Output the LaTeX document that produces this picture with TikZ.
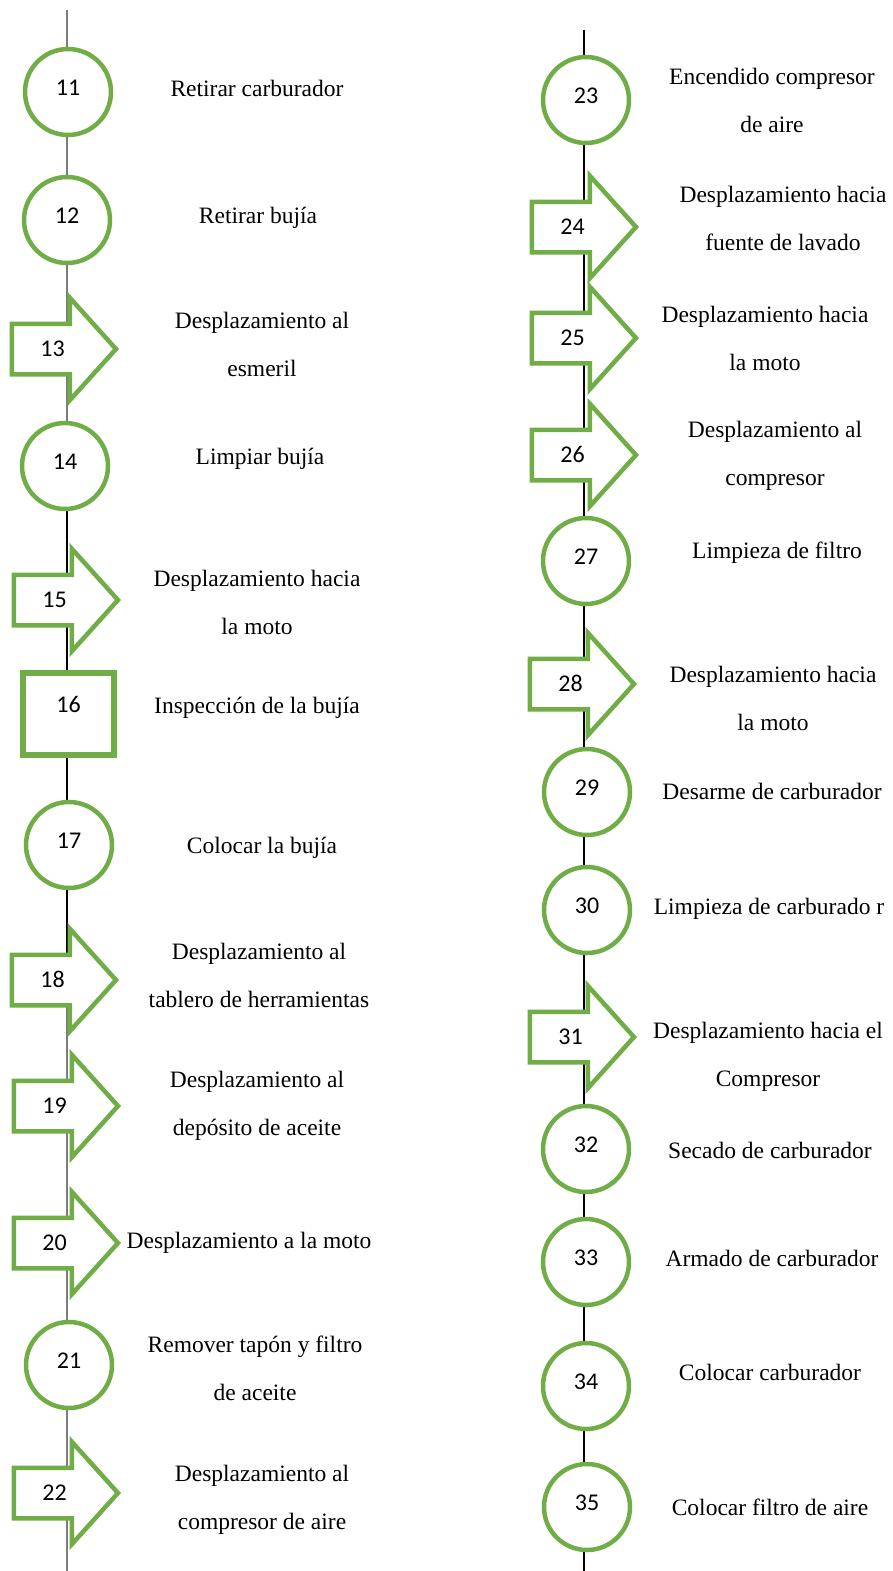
\documentclass[tikz,border=0pt]{standalone}
\usepackage{fontspec}
\setmainfont{Liberation Serif}
\newfontfamily\numfont{Carlito}
\usepackage{tikz}
\usetikzlibrary{shapes.arrows,backgrounds}
\definecolor{opgreen}{RGB}{112,173,71}
\definecolor{opline}{RGB}{125,125,125}
\tikzset{
  opbase/.style={draw=opgreen, fill=white, font=\numfont\fontsize{24}{28}\selectfont},
  oper/.style={opbase, circle, line width=4.5pt, minimum size=86pt, inner sep=0pt, text depth=9pt},
  insp/.style={opbase, rectangle, line width=6pt, minimum width=91pt, minimum height=82pt,
    inner sep=0pt, text depth=20pt},
  move/.style={opbase, single arrow, line width=4.5pt, single arrow head extend=26pt,
    single arrow tip angle=96, minimum height=104pt, text height=15pt, text depth=0pt,
    inner ysep=15.5pt, inner xsep=2pt, anchor=tip},
  desc/.style={align=center, font=\fontsize{23.5}{48}\selectfont},
  flow/.style={draw=black, line width=1.5pt},
  flowg/.style={flow, draw=opline}
}

\begin{document}
\begin{tikzpicture}[x=1pt, y=-1pt]
  \useasboundingbox (0,0) rectangle (893,1571);
  % left column
  \node[oper] (n11) at (68,92) {11};
  \node[oper] (n12) at (67,220) {12};
  \node[move] (n13) at (119,349) {13};
  \node[oper] (n14) at (65,466) {14};
  \node[move] (n15) at (121,600) {15};
  \node[insp] (n16) at (68.5,714) {16};
  \node[oper] (n17) at (69,845) {17};
  \node[move] (n18) at (119,980) {18};
  \node[move] (n19) at (121,1106) {19};
  \node[move] (n20) at (121,1243) {20};
  \node[oper] (n21) at (69,1365) {21};
  \node[move] (n22) at (121,1493) {22};
  \node[desc] (t11) at (257,88) {Retirar carburador};
  \node[desc] (t12) at (258,218) {Retirar bujía};
  \node[desc] (t13) at (262,344) {Desplazamiento al\\esmeril};
  \node[desc] (t14) at (260,459) {Limpiar bujía};
  \node[desc] (t15) at (257,602) {Desplazamiento hacia\\la moto};
  \node[desc] (t16) at (257,708) {Inspección de la bujía};
  \node[desc] (t17) at (262,848) {Colocar la bujía};
  \node[desc] (t18) at (259,975) {Desplazamiento al\\tablero de herramientas};
  \node[desc] (t19) at (257,1106) {Desplazamiento al\\depósito de aceite};
  \node[desc] (t20) at (249,1243) {Desplazamiento a la moto};
  \node[desc] (t21) at (255,1368) {Remover tapón y filtro\\de aceite};
  \node[desc] (t22) at (262,1500) {Desplazamiento al\\compresor de aire};
  % right column
  \node[oper] (n23) at (586,100) {23};
  \node[move] (n24) at (639,227) {24};
  \node[move] (n25) at (639,338) {25};
  \node[move] (n26) at (639,455) {26};
  \node[oper] (n27) at (586,561) {27};
  \node[move] (n28) at (637,684) {28};
  \node[oper] (n29) at (587,792) {29};
  \node[oper] (n30) at (587,910) {30};
  \node[move] (n31) at (637,1037) {31};
  \node[oper] (n32) at (586,1149) {32};
  \node[oper] (n33) at (586,1262) {33};
  \node[oper] (n34) at (586,1386) {34};
  \node[oper] (n35) at (587,1507) {35};
  \node[desc] (t23) at (772,100) {Encendido compresor\\de aire};
  \node[desc] (t24) at (783,218) {Desplazamiento hacia\\fuente de lavado};
  \node[desc] (t25) at (765,338) {Desplazamiento hacia\\la moto};
  \node[desc] (t26) at (775,456) {Desplazamiento al\\compresor};
  \node[desc] (t27) at (777,553) {Limpieza de filtro};
  \node[desc] (t28) at (773,698) {Desplazamiento hacia\\la moto};
  \node[desc] (t29) at (772,791) {Desarme de carburador};
  \node[desc] (t30) at (769,909) {Limpieza de carburado r};
  \node[desc] (t31) at (768,1057) {Desplazamiento hacia el\\Compresor};
  \node[desc] (t32) at (770,1150) {Secado de carburador};
  \node[desc] (t33) at (772,1258) {Armado de carburador};
  \node[desc] (t34) at (770,1372) {Colocar carburador};
  \node[desc] (t35) at (770,1507) {Colocar filtro de aire};
  % flow lines
  \coordinate (ltop) at (67,10);
  \coordinate (lbot) at (67,1571);
  \coordinate (rtop) at (584,30);
  \coordinate (rbot) at (584,1571);
  \begin{scope}[on background layer]
    \draw[flowg] (ltop) -- (ltop |- n14);
    \draw[flow] (ltop |- n14) -- (ltop |- n18);
    \draw[flowg] (ltop |- n18) -- (lbot);
    \draw[flow] (rtop) -- (rbot);
  \end{scope}
\end{tikzpicture}
\end{document}
